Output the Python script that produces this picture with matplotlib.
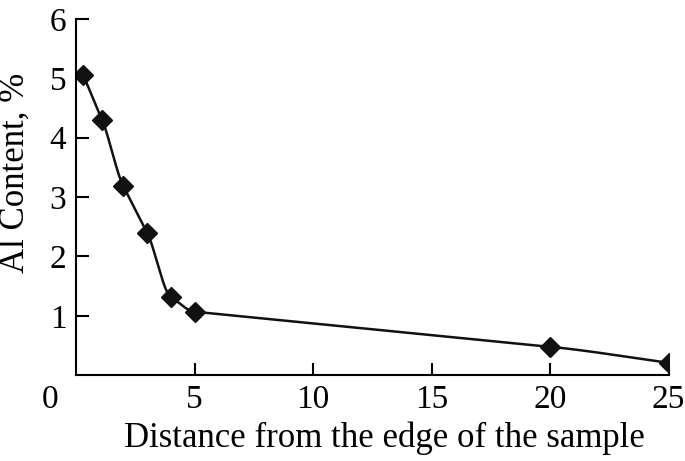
import numpy as np
import matplotlib
matplotlib.use("Agg")
import matplotlib.pyplot as plt

# distance from the edge, Al content (%)
distance = [0.3, 1.1, 2.0, 3.0, 4.0, 5.0, 20.0, 25.0]
al_content = [5.06, 4.30, 3.18, 2.40, 1.32, 1.07, 0.48, 0.21]
x_ticks = [5, 10, 15, 20, 25]
y_ticks = [1, 2, 3, 4, 5, 6]


def smooth(x, y, xs):
    # monotone cubic through the measured points, only for drawing the line
    x = np.asarray(x, float)
    y = np.asarray(y, float)
    h = np.diff(x)
    d = np.diff(y) / h
    m = np.zeros_like(y)
    for k in range(1, len(x) - 1):
        if d[k - 1] * d[k] > 0:
            m[k] = d[k - 1] if abs(d[k - 1]) < abs(d[k]) else d[k]
    m[0] = d[0]
    m[-1] = d[-1]
    idx = np.clip(np.searchsorted(x, xs) - 1, 0, len(x) - 2)
    t = (xs - x[idx]) / h[idx]
    h00 = 2 * t**3 - 3 * t**2 + 1
    h10 = t**3 - 2 * t**2 + t
    h01 = -2 * t**3 + 3 * t**2
    h11 = t**3 - t**2
    return (h00 * y[idx] + h10 * h[idx] * m[idx]
            + h01 * y[idx + 1] + h11 * h[idx] * m[idx + 1])


plt.rcParams['font.family'] = ['Liberation Serif', 'DejaVu Serif']

fig = plt.figure(figsize=(6.85, 4.61), dpi=100)
ax = fig.add_axes([0.111, 0.186, 0.865, 0.773])

xs = np.linspace(distance[0], distance[-1], 800)
ax.plot(xs, smooth(distance, al_content, xs), color='#111111', lw=1.8)
ax.plot(distance, al_content, ls='none', marker='D', ms=10, color='#111111')

ax.set_xlim(0, 25)
ax.set_ylim(0, 6)
ax.set_xticks(x_ticks)
ax.set_yticks(y_ticks)
ax.spines['top'].set_visible(False)
ax.spines['right'].set_visible(False)
for s in ('left', 'bottom'):
    ax.spines[s].set_linewidth(1.5)
ax.tick_params(direction='in', length=9, width=1.5, labelsize=24, pad=7)
ax.text(-0.044, -0.068, '0', transform=ax.transAxes, fontsize=24,
        ha='center', va='center')

ax.set_xlabel('Distance from the edge of the sample', fontsize=25)
ax.xaxis.set_label_coords(0.52, -0.13)
ax.set_ylabel('Al Content, %', fontsize=25)
ax.yaxis.set_label_coords(-0.074, 0.567)

fig.savefig('out.png', dpi=100)
